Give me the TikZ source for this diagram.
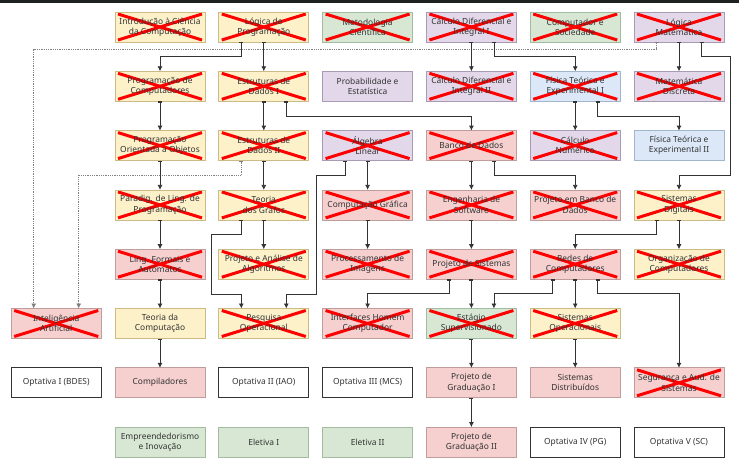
\documentclass[tikz,border=0pt]{standalone}
\usepackage{fontspec}
\setmainfont{Noto Sans}
\usetikzlibrary{arrows.meta, positioning}
\definecolor{cinzaescuro}{HTML}{333333}
\definecolor{amareloclaro}{HTML}{FDF1CA}
\definecolor{amareloborda}{HTML}{CDBB85}
\definecolor{verdeclaro}{HTML}{D7E7D3}
\definecolor{verdeborda}{HTML}{A3BC9F}
\definecolor{lilasclaro}{HTML}{E3D8EA}
\definecolor{lilasborda}{HTML}{A99BB3}
\definecolor{rosaclaro}{HTML}{F6CFCF}
\definecolor{rosaborda}{HTML}{C09C9B}
\definecolor{azulclaro}{HTML}{DCE8F8}
\definecolor{azulborda}{HTML}{A2B5CC}
\definecolor{barratopo}{HTML}{202221}
\colorlet{colTexto}{cinzaescuro}
\colorlet{colLinha}{cinzaescuro}
\colorlet{colPontilhado}{gray}
\colorlet{colRisco}{red}
\tikzset{
  caixaBase/.style={
    draw, line width=0.8pt, outer sep=0pt, inner sep=1pt,
    minimum height=30pt, minimum width=90pt,
    align=center, font=\fontsize{8.4}{10.2}\selectfont, text=colTexto
  },
  caixaAmarela/.style={caixaBase, draw=amareloborda, fill=amareloclaro},
  caixaVerde/.style={caixaBase, draw=verdeborda, fill=verdeclaro},
  caixaLilas/.style={caixaBase, draw=lilasborda, fill=lilasclaro},
  caixaRosa/.style={caixaBase, draw=rosaborda, fill=rosaclaro},
  caixaAzul/.style={caixaBase, draw=azulborda, fill=azulclaro},
  caixaBranca/.style={caixaBase, draw=colLinha, fill=white},
  riscoX/.style={draw=colRisco, line width=3pt},
  riscada/.style={path picture={
    \draw[riscoX] ([xshift=3pt,yshift=-2pt]path picture bounding box.north west)
      -- ([xshift=-3pt,yshift=2pt]path picture bounding box.south east);
    \draw[riscoX] ([xshift=3pt,yshift=2pt]path picture bounding box.south west)
      -- ([xshift=-3pt,yshift=-2pt]path picture bounding box.north east);}},
  seta/.style={{Bar[width=4pt,line width=1.4pt]}-{Latex[length=5pt,width=5pt]}, line width=0.8pt, colLinha},
  setaPontilhada/.style={seta, densely dotted, draw=colPontilhado},
}
\begin{document}
\begin{tikzpicture}[x=1pt, y=1pt, node distance=29.3pt and 13.8pt]
    \useasboundingbox (0,0) rectangle (739,-464);
    \fill[white] (0,0) rectangle (739,-464);
    \fill[barratopo] (0,0) rectangle (739,-3);
    % 1o periodo
    \node[caixaAmarela, riscada] (icc) at (160,-27) {Introdução à Ciência\\da Computação};
    \node[caixaAmarela, riscada, right=of icc] (lp) {Lógica de\\Programação};
    \node[caixaVerde, riscada, right=of lp] (metc) {Metodologia\\Científica};
    \node[caixaLilas, riscada, right=of metc] (cdi1) {Cálculo Diferencial e\\Integral I};
    \node[caixaVerde, riscada, right=of cdi1] (cso) {Computador e\\Sociedade};
    \node[caixaLilas, riscada, right=of cso] (lmat) {Lógica\\Matemática};
    % 2o periodo
    \node[caixaAmarela, riscada, below=of icc] (pcomp) {Programação de\\Computadores};
    \node[caixaAmarela, riscada, below=of lp] (ed1) {Estruturas de\\Dados I};
    \node[caixaLilas, below=of metc] (pe) {Probabilidade e\\Estatística};
    \node[caixaLilas, riscada, below=of cdi1] (cdi2) {Cálculo Diferencial e\\Integral II};
    \node[caixaAzul, riscada, below=of cso] (fis1) {Física Teórica e\\Experimental I};
    \node[caixaLilas, riscada, below=of lmat] (mdisc) {Matemática\\Discreta};
    % 3o periodo
    \node[caixaAmarela, riscada, below=of pcomp] (poo) {Programação\\Orientada a Objetos};
    \node[caixaAmarela, riscada, below=of ed1] (ed2) {Estruturas de\\Dados II};
    \node[caixaLilas, riscada, below=of pe] (alg) {Álgebra\\Linear};
    \node[caixaRosa, riscada, below=of cdi2] (bd) {Banco de Dados};
    \node[caixaLilas, riscada, below=of fis1] (cnum) {Cálculo\\Numérico};
    \node[caixaAzul, below=of mdisc] (fis2) {Física Teórica e\\Experimental II};
    % 4o periodo
    \node[caixaAmarela, riscada, below=of poo] (plp) {Paradig. de Ling. de\\Programação};
    \node[caixaAmarela, riscada, below=of ed2] (tg) {Teoria\\dos Grafos};
    \node[caixaRosa, riscada, below=of alg] (cg) {Computação Gráfica};
    \node[caixaRosa, riscada, below=of bd] (es) {Engenharia de\\Software};
    \node[caixaRosa, riscada, below=of cnum] (pbd) {Projeto em Banco de\\Dados};
    \node[caixaAmarela, riscada, below=of fis2] (sdig) {Sistemas\\Digitais};
    % 5o periodo
    \node[caixaRosa, riscada, below=of plp] (lfa) {Ling. Formais e\\Autômatos};
    \node[caixaAmarela, riscada, below=of tg] (paa) {Projeto e Análise de\\Algoritmos};
    \node[caixaRosa, riscada, below=of cg] (pimg) {Processamento de\\Imagens};
    \node[caixaRosa, riscada, below=of es] (psis) {Projeto de Sistemas};
    \node[caixaRosa, riscada, below=of pbd] (redes) {Redes de\\Computadores};
    \node[caixaAmarela, riscada, below=of sdig] (orgc) {Organização de\\Computadores};
    % 6o periodo
    \node[caixaAmarela, below=of lfa] (tc) {Teoria da\\Computação};
    \node[caixaRosa, riscada, left=of tc] (ia) {Inteligência\\Artificial};
    \node[caixaAmarela, riscada, below=of paa] (po) {Pesquisa\\Operacional};
    \node[caixaRosa, riscada, below=of pimg] (ihc) {Interfaces Homem\\Computador};
    \node[caixaVerde, riscada, below=of psis] (est) {Estágio\\Supervisionado};
    \node[caixaAmarela, riscada, below=of redes] (so) {Sistemas\\Operacionais};
    % 7o periodo
    \node[caixaBranca, below=of ia] (opt1) {Optativa I (BDES)};
    \node[caixaRosa, below=of tc] (compil) {Compiladores};
    \node[caixaBranca, below=of po] (opt2) {Optativa II (IAO)};
    \node[caixaBranca, below=of ihc] (opt3) {Optativa III (MCS)};
    \node[caixaRosa, below=of est] (pg1) {Projeto de\\Graduação I};
    \node[caixaRosa, below=of so] (sdist) {Sistemas\\Distribuídos};
    \node[caixaRosa, riscada, right=of sdist] (seg) {Segurança e Aud. de\\Sistemas};
    % 8o periodo
    \node[caixaVerde, below=of compil] (empr) {Empreendedorismo\\e Inovação};
    \node[caixaVerde, below=of opt2] (elet1) {Eletiva I};
    \node[caixaVerde, below=of opt3] (elet2) {Eletiva II};
    \node[caixaRosa, below=of pg1] (pg2) {Projeto de\\Graduação II};
    \node[caixaBranca, below=of sdist] (opt4) {Optativa IV (PG)};
    \node[caixaBranca, below=of seg] (opt5) {Optativa V (SC)};
    % pre-requisitos
    \draw[setaPontilhada] ([xshift=-22.5pt]lmat.south) -- ++(0,-7) -| ([xshift=-22.5pt]ia.north);
    \draw[setaPontilhada] ([xshift=-22.5pt]ed2.south) -- ++(0,-14.6) -| ([xshift=22.5pt]ia.north);
    \draw[seta] ([xshift=-22.5pt]lp.south) -- ++(0,-14.6) -| (pcomp.north);
    \draw[seta] (lp) -- (ed1);
    \draw[seta] (cdi1) -- (cdi2);
    \draw[seta] ([xshift=22.5pt]cdi1.south) -- ++(0,-14.6) -| (fis1.north);
    \draw[seta] (lmat) -- (mdisc);
    \draw[seta] ([xshift=22.5pt]lmat.south) -- ++(0,-14.6) -- ++(29,0)
      |- ([yshift=14.6pt]sdig.north) -- (sdig.north);
    \draw[seta] (pcomp) -- (poo);
    \draw[seta] (ed1) -- (ed2);
    \draw[seta] ([xshift=22.5pt]ed1.south) -- ++(0,-14.6) -| (bd.north);
    \draw[seta] (fis1) -- (cnum);
    \draw[seta] ([xshift=22.5pt]fis1.south) -- ++(0,-14.6) -| (fis2.north);
    \draw[seta] (poo) -- (plp);
    \draw[seta] (ed2) -- (tg);
    \draw[seta] (alg) -- (cg);
    \draw[seta] ([xshift=-22.5pt]alg.south) -- ++(0,-14.6) -- ++(-29,0)
      |- ([xshift=22.5pt,yshift=14.6pt]po.north) -- ([xshift=22.5pt]po.north);
    \draw[seta] (bd) -- (es);
    \draw[seta] ([xshift=22.5pt]bd.south) -- ++(0,-14.6) -| (pbd.north);
    \draw[seta] (plp) -- (lfa);
    \draw[seta] (tg) -- (paa);
    \draw[seta] ([xshift=-22.5pt]tg.south) -- ++(0,-14.6) -- ++(-30,0)
      |- ([xshift=-22.5pt,yshift=14.6pt]po.north) -- ([xshift=-22.5pt]po.north);
    \draw[seta] (cg) -- (pimg);
    \draw[seta] (es) -- (psis);
    \draw[seta] ([xshift=-22.5pt]sdig.south) -- ++(0,-14.6) -| (redes.north);
    \draw[seta] (sdig) -- (orgc);
    \draw[seta] (lfa) -- (tc);
    \draw[seta] ([xshift=-22.5pt]psis.south) -- ++(0,-14.6) -| (ihc.north);
    \draw[seta] (psis) -- (est);
    \draw[seta] ([xshift=-22.5pt]redes.south) -- ++(0,-14.6) -| ([xshift=22.5pt]est.north);
    \draw[seta] (redes) -- (so);
    \draw[seta] ([xshift=22.5pt]redes.south) -- ++(0,-14.6) -| (seg.north);
    \draw[seta] (tc) -- (compil);
    \draw[seta] (est) -- (pg1);
    \draw[seta] (pg1) -- (pg2);
    \draw[seta] (so) -- (sdist);
\end{tikzpicture}
\end{document}
